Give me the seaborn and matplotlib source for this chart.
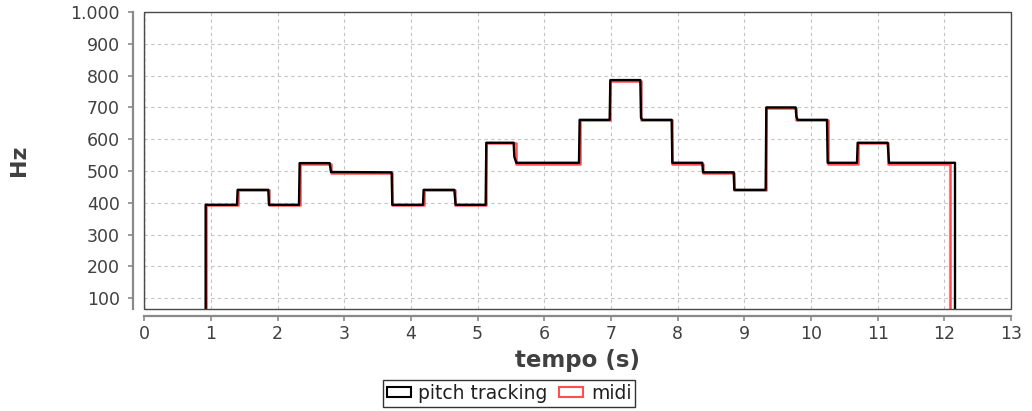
import matplotlib
matplotlib.use("Agg")
import matplotlib.pyplot as plt
from matplotlib.patches import Rectangle, Patch
from matplotlib.ticker import FixedLocator, FuncFormatter
import seaborn as sns
import pandas as pd

# Detected pitch (Hz) over time (s), vertices of the tracked contour
pitch_t = [0.00, 0.92, 0.92, 1.39, 1.40, 1.86, 1.87, 2.32, 2.33, 2.78, 2.80, 3.71,
           3.72, 4.18, 4.19, 4.65, 4.67, 5.12, 5.13, 5.54, 5.55, 5.58, 6.52, 6.53,
           6.98, 6.99, 7.44, 7.45, 7.47, 7.91, 7.92, 8.37, 8.38, 8.84, 8.85, 9.32,
           9.33, 9.77, 9.78, 9.80, 10.24, 10.25, 10.69, 10.70, 11.15, 11.17, 12.16, 12.16]
pitch_f = [0, 0, 394, 394, 441, 441, 394, 394, 525, 525, 497, 496,
           394, 394, 441, 441, 394, 394, 589, 589, 545, 526, 526, 661,
           661, 786, 786, 668, 661, 661, 526, 526, 496, 496, 441, 441,
           700, 700, 672, 661, 661, 526, 526, 589, 589, 526, 526, 0]

# MIDI note onsets (s) and note frequencies (Hz)
midi_t = [0.00, 0.93, 1.40, 1.87, 2.33, 2.80, 3.72, 4.19, 4.66, 5.13, 5.58, 6.53,
          6.99, 7.45, 7.92, 8.38, 8.85, 9.33, 9.78, 10.25, 10.70, 11.16, 12.08, 13.00]
midi_f = [0, 392.00, 440.00, 392.00, 523.25, 493.88, 392.00, 440.00, 392.00, 587.33,
          523.25, 659.26, 783.99, 659.26, 523.25, 493.88, 440.00, 698.46, 659.26,
          523.25, 587.33, 523.25, 0, 0]

x_ticks = list(range(0, 14))
y_ticks = [100, 200, 300, 400, 500, 600, 700, 800, 900, 1000]
series_labels = ["pitch tracking", "midi"]

sns.set_theme(style="white")
plt.rcParams["font.family"] = ["DejaVu Sans"]

W, H = 1032, 411
fig = plt.figure(figsize=(W / 100, H / 100), dpi=100)
x0, x1, y0, y1 = 144.3, 1011.0, 12.0, 309.3
ax = fig.add_axes([x0 / W, 1 - y1 / H, (x1 - x0) / W, (y1 - y0) / H])

midi_df = pd.DataFrame({"t": midi_t, "f": midi_f})
pitch_df = pd.DataFrame({"t": pitch_t, "f": pitch_f})

red = "#ff4f4f"
sns.lineplot(data=midi_df, x="t", y="f", ax=ax, color=red, lw=1.8,
             drawstyle="steps-post", estimator=None, sort=False)
sns.lineplot(data=pitch_df, x="t", y="f", ax=ax, color="black", lw=1.7,
             estimator=None, sort=False)
ax.axvline(0, color="#23236e", lw=1.6, ls=(0, (2, 1)), zorder=3)

ax.set_xlim(0, 13)
ax.set_ylim(65.4, 1000)
ax.xaxis.set_major_locator(FixedLocator(x_ticks))
ax.yaxis.set_major_locator(FixedLocator(y_ticks))
ax.yaxis.set_major_formatter(FuncFormatter(lambda v, p: f"{int(round(v)):,}".replace(",", ".")))
ax.xaxis.set_major_formatter(FuncFormatter(lambda v, p: f"{int(round(v))}"))

ax.grid(True, color="#c4c4c4", lw=0.8, ls=(0, (3, 3)))
ax.set_axisbelow(True)

axis_grey = "#8a8a8a"
for side in ["top", "right"]:
    ax.spines[side].set_visible(False)
ax.spines["left"].set_position(("outward", 8))
ax.spines["bottom"].set_position(("outward", 5))
for side in ["left", "bottom"]:
    ax.spines[side].set_color(axis_grey)
    ax.spines[side].set_linewidth(1.6)

# plot outline
ax.add_patch(Rectangle((0, 0), 1, 1, transform=ax.transAxes, fill=False,
                       edgecolor="#4a4a4a", lw=1.0, clip_on=False, zorder=4))

ax.tick_params(axis="both", which="major", direction="out", length=3.5, width=1.2,
               color=axis_grey, labelcolor="#404040", labelsize=12.5)
ax.tick_params(axis="y", pad=6, left=True)
ax.tick_params(axis="x", pad=3, bottom=True)

ax.set_xlabel("tempo (s)", fontsize=16.5, fontweight="bold", color="#404040", labelpad=4)
ax.set_ylabel("Hz", fontsize=16, fontweight="bold", color="#404040", labelpad=30)

handles = [Patch(facecolor="white", edgecolor="black", lw=1.5),
           Patch(facecolor="white", edgecolor=red, lw=1.5)]
leg = fig.legend(handles, series_labels, loc="upper center",
                 bbox_to_anchor=(509 / W, 1 - 380 / H), ncol=2, frameon=True,
                 fancybox=False, fontsize=13.5, handlelength=1.3, handleheight=0.5,
                 handletextpad=0.4, columnspacing=0.6, borderpad=0.2,
                 borderaxespad=0)
leg.get_frame().set_edgecolor("black")
leg.get_frame().set_linewidth(1.0)
for t in leg.get_texts():
    t.set_color("#202020")

fig.savefig("out.png", dpi=100)
